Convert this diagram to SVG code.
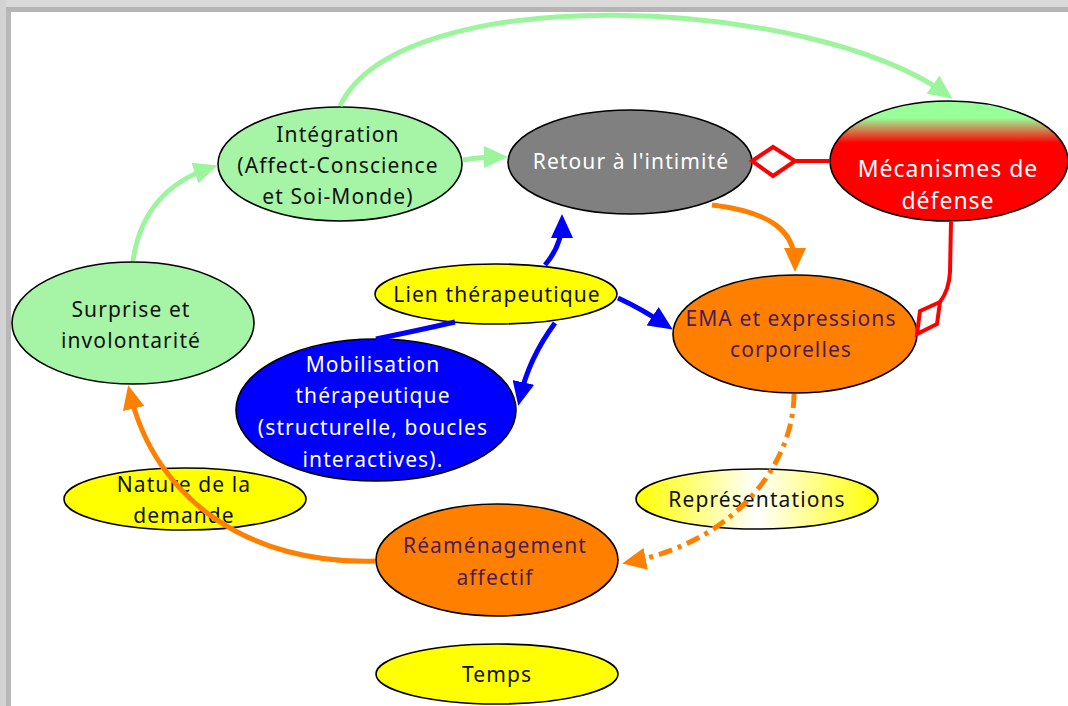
<svg xmlns="http://www.w3.org/2000/svg" width="1068" height="706" viewBox="0 0 1068 706">
<style>
.n{stroke:#000;stroke-width:1.6}
.t{font-family:"Noto Sans","Open Sans",sans-serif;font-size:21px;letter-spacing:1.1px;text-anchor:middle;fill:#111}
.w{fill:#fff}
.p{fill:#4a1c5c}
.big{font-size:23px;letter-spacing:1px}
.c{fill:none;stroke-width:5;stroke-linecap:butt}
.g{stroke:#9cf59c}
.o{stroke:#ff8000}
.b{stroke:#0000ff}
.r{stroke:#ff0000;stroke-width:4}
</style>
<defs>
<marker id="ag" markerUnits="userSpaceOnUse" markerWidth="24" markerHeight="22" viewBox="0 0 24 22" refX="16" refY="11" orient="auto"><path d="M0,0 L24,11 L0,22 z" fill="#9cf59c"/></marker>
<marker id="ao" markerUnits="userSpaceOnUse" markerWidth="24" markerHeight="22" viewBox="0 0 24 22" refX="16" refY="11" orient="auto"><path d="M0,0 L24,11 L0,22 z" fill="#ff8000"/></marker>
<marker id="ab" markerUnits="userSpaceOnUse" markerWidth="24" markerHeight="22" viewBox="0 0 24 22" refX="16" refY="11" orient="auto"><path d="M0,0 L24,11 L0,22 z" fill="#0000ff"/></marker>
<linearGradient id="mec" x1="0" y1="0" x2="0" y2="1">
<stop offset="0" stop-color="#99ff99"/><stop offset="0.14" stop-color="#99ff99"/><stop offset="0.35" stop-color="#ff0000"/><stop offset="1" stop-color="#ff0000"/>
</linearGradient>
<linearGradient id="rep" x1="0" y1="0" x2="1" y2="0">
<stop offset="0" stop-color="#ffff00"/><stop offset="0.5" stop-color="#ffffff"/><stop offset="1" stop-color="#ffff00"/>
</linearGradient>
</defs>
<rect width="1068" height="706" fill="#fff"/>
<rect x="0" y="0" width="1068" height="7" fill="#d9d9d9"/>
<rect x="0" y="7" width="1068" height="5" fill="#b5b5b5"/>
<rect x="0" y="0" width="6" height="706" fill="#d3d3d3"/>
<rect x="6" y="12" width="5" height="694" fill="#b8b8b8"/>

<g id="integration">
<ellipse class="n" cx="340" cy="164" rx="122" ry="57" fill="#a6f5a6"/>
<text class="t"><tspan x="338" y="142">Intégration</tspan><tspan x="338" y="173">(Affect-Conscience</tspan><tspan x="338" y="204">et Soi-Monde)</tspan></text>
</g>
<g id="retour">
<ellipse class="n" cx="630" cy="162" rx="122" ry="52" fill="#808080"/>
<text class="t w" x="631" y="169">Retour à l'intimité</text>
</g>
<g id="mecanismes">
<ellipse class="n" cx="949" cy="161" rx="119" ry="60" fill="url(#mec)"/>
<text class="t w big"><tspan x="948" y="177">Mécanismes de</tspan><tspan x="948" y="209">défense</tspan></text>
</g>
<g id="surprise">
<ellipse class="n" cx="133" cy="323" rx="121" ry="61" fill="#a6f5a6"/>
<text class="t"><tspan x="131" y="317">Surprise et</tspan><tspan x="131" y="348">involontarité</tspan></text>
</g>
<g id="lien">
<ellipse class="n" cx="496" cy="294" rx="121" ry="30" fill="#ffff00"/>
<text class="t" x="497" y="302">Lien thérapeutique</text>
</g>
<g id="ema">
<ellipse class="n" cx="795" cy="334" rx="122" ry="59" fill="#ff8000"/>
<text class="t p"><tspan x="791" y="326">EMA et expressions</tspan><tspan x="791" y="357">corporelles</tspan></text>
</g>
<g id="mobilisation">
<ellipse class="n" cx="376" cy="410" rx="140" ry="71" fill="#0000ff"/>
<text class="t w"><tspan x="373" y="372">Mobilisation</tspan><tspan x="373" y="403">thérapeutique</tspan><tspan x="373" y="435">(structurelle, boucles</tspan><tspan x="373" y="467">interactives).</tspan></text>
</g>
<g id="nature">
<ellipse class="n" cx="185" cy="499" rx="121" ry="31" fill="#ffff00"/>
<text class="t"><tspan x="184" y="492">Nature de la</tspan><tspan x="184" y="523">demande</tspan></text>
</g>
<g id="representations">
<ellipse class="n" cx="757" cy="499" rx="121" ry="30" fill="url(#rep)"/>
<text class="t" x="757" y="507">Représentations</text>
</g>
<g id="reamenagement">
<ellipse class="n" cx="497" cy="560" rx="121" ry="56" fill="#ff8000"/>
<text class="t p"><tspan x="495" y="553">Réaménagement</tspan><tspan x="495" y="585">affectif</tspan></text>
</g>
<g id="temps">
<ellipse class="n" cx="497" cy="674" rx="121" ry="30" fill="#ffff00"/>
<text class="t" x="497" y="682">Temps</text>
</g>

<g id="connectors">
<path class="c g" d="M133,261 C140,212 168,182 210,168" marker-end="url(#ag)"/>
<path class="c g" d="M463,160 Q480,157 500,157" marker-end="url(#ag)"/>
<path class="c g" d="M340,106 C400,-22 810,-4 946,94" marker-end="url(#ag)"/>
<path class="c o" d="M712,205 C772,212 795,232 795,264" marker-end="url(#ao)"/>
<path class="c b" d="M545,265 Q562,245 562,222" marker-end="url(#ab)"/>
<path class="c b" d="M618,298 Q640,308 666,325" marker-end="url(#ab)"/>
<path class="c b" d="M555,323 C535,350 525,375 520,398" marker-end="url(#ab)"/>
<path class="c b" d="M376,339 Q420,330 455,322"/>
<path class="c o" d="M375,561 C250,565 155,500 130,393" marker-end="url(#ao)"/>
<path class="c o" d="M794,394 C794,460 740,540 630,562" stroke-dasharray="14 6 4 6" marker-end="url(#ao)"/>
<path class="c r" d="M830,161 L795,161"/>
<polygon class="c r" points="752,161 773,147 795,161 773,176" fill="#fff"/>
<path class="c r" d="M951,222 L950,272 Q949,290 940,302"/>
<polygon class="c r" points="940,302 937,324 917,334 920,311" fill="#fff"/>
</g>
</svg>
